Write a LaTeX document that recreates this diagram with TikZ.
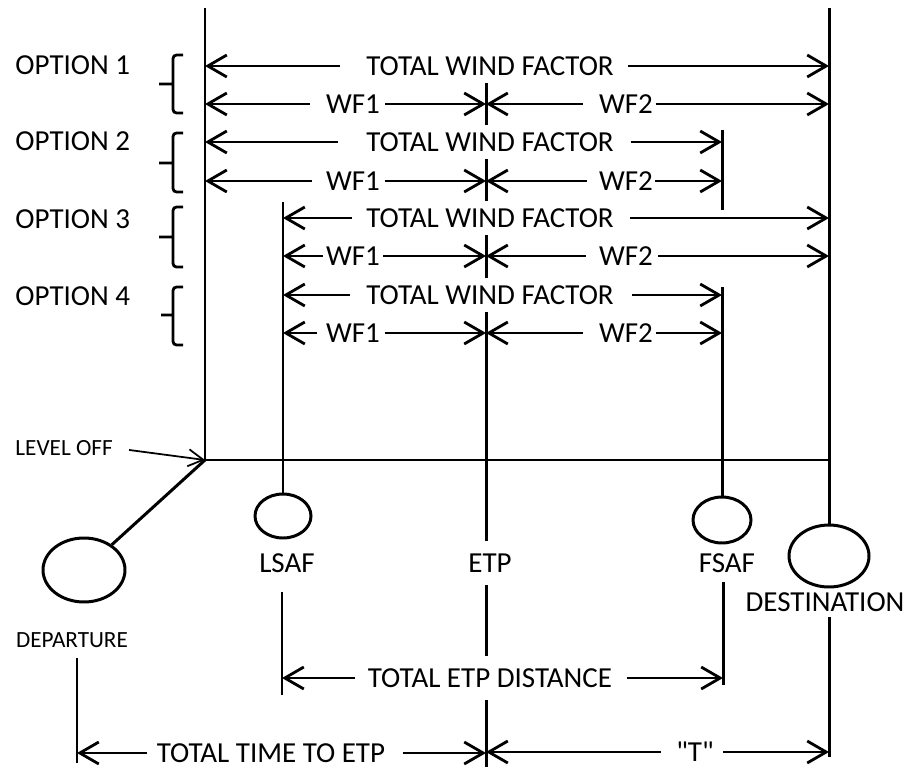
\documentclass[tikz,border=0pt]{standalone}
\usepackage{fontspec}
\setmainfont{Carlito}[Ligatures=TeXOff]
\usetikzlibrary{arrows.meta, shapes.geometric}

\begin{document}
\begin{tikzpicture}[
    x=0.02cm, y=-0.02cm, line width=1.7pt,
    lbl/.style={font=\fontsize{16.5}{18}\selectfont, inner sep=0pt},
    small/.style={font=\fontsize{13.2}{14}\selectfont, inner sep=0pt},
    cover/.style={lbl, fill=white, inner ysep=#1}, cover/.default=4pt,
    stop/.style={ellipse, draw, inner sep=0pt},
    dim/.style={-{Straight Barb[length=0.38cm, width=0.44cm]}, line width=1.6pt},
    gap/.style={shorten <=#1},
    opt/.style={rounded corners=2pt, line width=1.6pt}
]
\useasboundingbox (0,0) rectangle (908,767);
% Points on the route lines
\coordinate (lotop) at (205,8);
\coordinate (lo) at (205,460);
\coordinate (desttop) at (829,8);
\coordinate (etptop) at (486,82);
\coordinate (etpbot) at (486,767);
\coordinate (lsaftop) at (283,202);
\coordinate (fsaftop) at (722,130);
\coordinate (fsafcut) at (722,210);
\coordinate (fsafmid) at (722,287);
\coordinate (depa) at (77,658);
\coordinate (depb) at (77,763);
\coordinate (lsafa) at (282,592);
\coordinate (lsafb) at (282,695);
\coordinate (fsafa) at (723,582);
\coordinate (fsafb) at (723,685);
\coordinate (desta) at (829,617);
\coordinate (destb) at (829,757);

% Airports
\node[stop, minimum width=1.64cm, minimum height=1.28cm] (dep) at (84,570) {};
\node[stop, minimum width=1.12cm, minimum height=0.88cm] (lsaf) at (283,516) {};
\node[stop, minimum width=1.16cm, minimum height=0.92cm] (fsaf) at (722,520) {};
\node[stop, minimum width=1.6cm, minimum height=1.24cm] (dest) at (829,556) {};

% Route lines
\draw (lotop) -- (lo);
\draw[line width=1.4pt] (lo) -- (lo -| dest);
\draw (lo) -- (dep);
\draw (desttop) -- (dest);
\draw (lsaftop) -- (lsaf);
\draw (fsaftop) -- (fsafcut) (fsafmid) -- (fsaf);
\draw (etptop) -- (etpbot);
\draw (depa) -- (depb);
\draw (lsafa) -- (lsafb);
\draw (fsafa) -- (fsafb);
\draw (desta) -- (destb);

% Level off
\node[small, anchor=west] (lvl) at (14,448) {LEVEL OFF};
\draw[line width=1pt, -{Straight Barb[length=0.3cm, width=0.34cm]}, gap=0.3cm] (lvl.east) -- (lo);

% Options
\node[lbl, anchor=west] (opt1) at (14,65) {OPTION 1};
\node[lbl, anchor=west] (opt2) at (14,141) {OPTION 2};
\node[lbl, anchor=west] (opt3) at (14,219) {OPTION 3};
\node[lbl, anchor=west] (opt4) at (14,296) {OPTION 4};
\draw[opt] (183,55) -- (173,55) -- (173,113) -- (183,113) (159,84) -- (173,84);
\draw[opt] (183,133) -- (173,133) -- (173,192) -- (183,192) (159,163) -- (173,163);
\draw[opt] (183,207) -- (173,207) -- (173,267) -- (183,267) (159,237) -- (173,237);
\draw[opt] (183,287) -- (173,287) -- (173,345) -- (183,345) (161,315) -- (173,315);

% Option 1
\node[cover] (twf1) at (490,66) {TOTAL WIND FACTOR};
\node[lbl] (wfa1) at (353,104) {WF1};
\node[lbl] (wfb1) at (626,104) {WF2};
\draw[dim, gap=0.5cm] (twf1.west) -- (twf1 -| lo);
\draw[dim, gap=0.26cm] (twf1.east) -- (twf1 -| dest);
\draw[dim, gap=0.3cm] (wfa1.west) -- (wfa1 -| lo);
\draw[dim, gap=0.08cm] (wfa1.east) -- (wfa1 -| etptop);
\draw[dim, gap=0.3cm] (wfb1.west) -- (wfb1 -| etptop);
\draw[dim, gap=0.04cm] (wfb1.east) -- (wfb1 -| dest);

% Option 2
\node[cover] (twf2) at (490,142) {TOTAL WIND FACTOR};
\node[lbl] (wfa2) at (353,181) {WF1};
\node[lbl] (wfb2) at (626,181) {WF2};
\draw[dim, gap=0.54cm] (twf2.west) -- (twf2 -| lo);
\draw[dim, gap=0.32cm] (twf2.east) -- (twf2 -| fsaf);
\draw[dim, gap=0.26cm] (wfa2.west) -- (wfa2 -| lo);
\draw[dim, gap=0.08cm] (wfa2.east) -- (wfa2 -| etptop);
\draw[dim, gap=0.22cm] (wfb2.west) -- (wfb2 -| etptop);
\draw[dim, gap=0.02cm] (wfb2.east) -- (wfb2 -| fsaf);

% Option 3
\node[cover] (twf3) at (490,218) {TOTAL WIND FACTOR};
\node[lbl] (wfa3) at (353,256) {WF1};
\node[lbl] (wfb3) at (626,256) {WF2};
\draw[dim, gap=0.26cm] (twf3.west) -- (twf3 -| lsaf);
\draw[dim, gap=0.3cm] (twf3.east) -- (twf3 -| dest);
\draw[dim, gap=0.04cm] (wfa3.west) -- (wfa3 -| lsaf);
\draw[dim, gap=0.04cm] (wfa3.east) -- (wfa3 -| etptop);
\draw[dim, gap=0.24cm] (wfb3.west) -- (wfb3 -| etptop);
\draw[dim, gap=0.08cm] (wfb3.east) -- (wfb3 -| dest);

% Option 4
\node[cover] (twf4) at (490,295) {TOTAL WIND FACTOR};
\node[lbl] (wfa4) at (353,333) {WF1};
\node[lbl] (wfb4) at (626,333) {WF2};
\draw[dim, gap=0.3cm] (twf4.west) -- (twf4 -| lsaf);
\draw[dim, gap=0.34cm] (twf4.east) -- (twf4 -| fsaf);
\draw[dim, gap=0.16cm] (wfa4.west) -- (wfa4 -| lsaf);
\draw[dim, gap=0.08cm] (wfa4.east) -- (wfa4 -| etptop);
\draw[dim, gap=0.3cm] (wfb4.west) -- (wfb4 -| etptop);
\draw[dim, gap=0.04cm] (wfb4.east) -- (wfb4 -| fsaf);

% Airport names
\node[small] (depl) at (72,640) {DEPARTURE};
\node[lbl] (lsafl) at (287,563) {LSAF};
\node[cover=7pt] (etpl) at (490,563) {ETP};
\node[lbl] (fsafl) at (727,563) {FSAF};
\node[lbl] (destl) at (825,602) {DESTINATION};

% Distances
\node[cover=7pt] (etpd) at (490,678) {TOTAL ETP DISTANCE};
\node[lbl] (tte) at (271,753) {TOTAL TIME TO ETP};
\node[lbl] (tlab) at (695,752) {"T"};
\draw[dim, gap=0.22cm] (etpd.west) -- (etpd -| lsafa);
\draw[dim, gap=0.26cm] (etpd.east) -- (etpd -| fsafa);
\draw[dim, gap=0.16cm] (tte.west) -- (tte -| depa);
\draw[dim, gap=0.32cm] (tte.east) -- (tte -| etptop);
\draw[dim, gap=0.28cm] (tlab.west) -- (tlab -| etptop);
\draw[dim, gap=0.16cm] (tlab.east) -- (tlab -| desta);
\end{tikzpicture}
\end{document}
